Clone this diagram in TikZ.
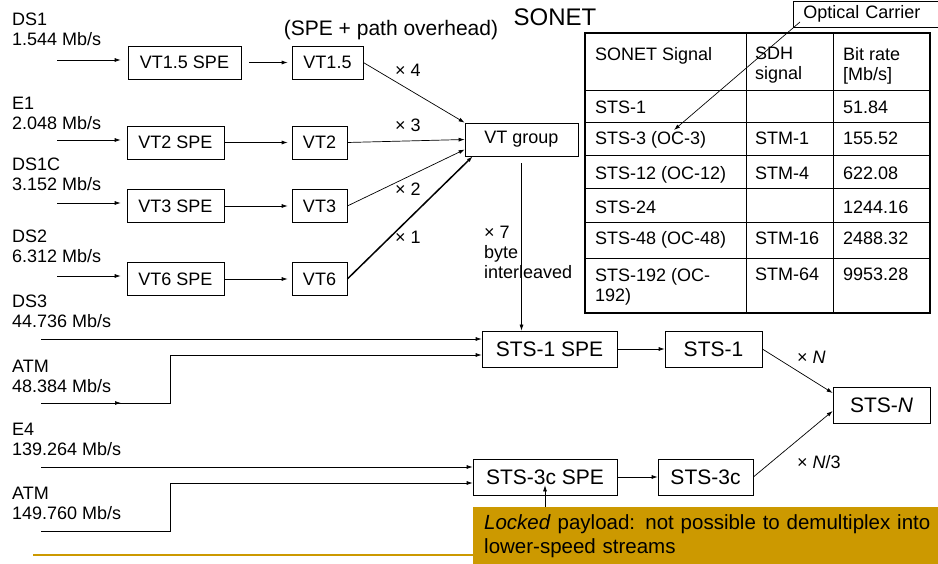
\documentclass[tikz,border=0pt]{standalone}
\usepackage{fontspec}
\setmainfont{Liberation Sans}
\usetikzlibrary{arrows.meta,positioning}
\definecolor{Or}{RGB}{204,153,0}
\tikzset{
Boite/.style={
 draw=black, 
 line width=0.7pt, 
 inner sep=0pt, 
 minimum height=33pt, 
 font=\fontsize{18}{21}\selectfont
 },
GBoite/.style={
 Boite, 
 minimum height=36pt, 
 font=\fontsize{21}{24}\selectfont
 },
Fleche/.style={
 draw=black, 
 line width=0.7pt, 
 -{Latex[length=6pt,width=4pt]}
 },
Texte/.style={
 inner sep=0pt, 
 align=left, 
 font=\fontsize{18}{20}\selectfont
 },
Entree/.style={
 Texte, 
 anchor=north west
 },
Cellule/.style={
 Texte, 
 anchor=base west
 },
Filet/.style={
 line width=0.8pt
 }
}
\begin{document}
\begin{tikzpicture}[x=1pt,y=-1pt]
\useasboundingbox (0,0) rectangle (938,564);
% titres
\node[Texte, font=\fontsize{24}{28}\selectfont] (titre) at (555,17) {SONET};
\node[Texte, font=\fontsize{21}{24}\selectfont] (overhead) at (391,30) {(SPE + path overhead)};
% entrees basse vitesse
\node[Entree] (lds1) at (12,13) {DS1\\1.544 Mb/s};
\node[Entree] (le1) at (12,97) {E1\\2.048 Mb/s};
\node[Entree] (lds1c) at (12,158) {DS1C\\3.152 Mb/s};
\node[Entree] (lds2) at (12,230) {DS2\\6.312 Mb/s};
\coordinate (ds1) at (57,60);
\coordinate (e1) at (57,140);
\coordinate (ds1c) at (57,203);
\coordinate (ds2) at (57,276);
% boites VT
\node[Boite, minimum width=113pt] (vtaspe) at (184.5,62.5) {VT1.5 SPE};
\node[Boite, minimum width=71pt] (vta) at (327.5,62.5) {VT1.5};
\node[Boite, minimum width=97pt] (vtbspe) at (175.5,142.5) {VT2 SPE};
\node[Boite, minimum width=55pt] (vtb) at (319.5,142.5) {VT2};
\node[Boite, minimum width=97pt] (vtcspe) at (175.5,206) {VT3 SPE};
\node[Boite, minimum width=55pt] (vtc) at (319.5,206) {VT3};
\node[Boite, minimum width=97pt] (vtdspe) at (175.5,279) {VT6 SPE};
\node[Boite, minimum width=55pt] (vtd) at (319.5,279) {VT6};
\node[Boite, minimum width=113pt] (vtg) at (521.5,139.5) {VT group};
\draw[Fleche, shorten >=7pt] (ds1) -- (ds1 -| vtaspe.west);
\draw[Fleche, shorten >=6pt] (e1) -- (e1 -| vtbspe.west);
\draw[Fleche, shorten >=6pt] (ds1c) -- (ds1c -| vtcspe.west);
\draw[Fleche, shorten >=6pt] (ds2) -- (ds2 -| vtdspe.west);
\draw[Fleche, shorten <=8pt, shorten >=4pt] (vtaspe.east) -- (vta.west);
\draw[Fleche, shorten >=4pt] (vtbspe.east) -- (vtb.west);
\draw[Fleche, shorten >=4pt] (vtcspe.east) -- (vtc.west);
\draw[Fleche, shorten >=4pt] (vtdspe.east) -- (vtd.west);
% groupe VT
\draw[Fleche] (vta.east) -- (vtg.north west);
\draw[Fleche] (vtb.east) -- (vtg.west);
\draw[Fleche] (vtc.east) -- ([yshift=-10pt]vtg.west);
\draw[Fleche, line width=1.5pt] (vtd.east) -- ([xshift=8pt]vtg.south west);
\node[Texte] (xa) at (408,70) {× 4};
\node[Texte] (xb) at (408,125) {× 3};
\node[Texte] (xc) at (408,189) {× 2};
\node[Texte] (xd) at (408,237) {× 1};
\node[Texte, anchor=west] (octets) at (484,252) {× 7\\byte\\interleaved};
% boites STS
\node[GBoite, minimum width=135pt] (sts1spe) at (549.5,349) {STS-1 SPE};
\node[GBoite, minimum width=97pt] (sts1) at (713.5,349) {STS-1};
\node[GBoite, minimum width=97pt] (stsn) at (881.5,405) {STS-\textit{N}};
\node[GBoite, minimum width=144pt] (sts3cspe) at (545,477) {STS-3c SPE};
\node[GBoite, minimum width=95pt] (sts3c) at (705.5,477) {STS-3c};
\draw[Fleche, shorten <=7pt] (vtg.south) -- (vtg.south |- sts1spe.north);
% entrees haute vitesse
\node[Entree] (lds3) at (12,295) {DS3\\44.736 Mb/s};
\node[Entree] (latma) at (12,360) {ATM\\48.384 Mb/s};
\node[Entree] (le4) at (12,423) {E4\\139.264 Mb/s};
\node[Entree] (latmb) at (12,487) {ATM\\149.760 Mb/s};
\coordinate (ds3) at (41,339);
\coordinate (atma) at (41,403);
\coordinate (e4) at (41,467);
\coordinate (atmb) at (41,531);
\draw[Fleche] (ds3) -- (ds3 -| sts1spe.west);
\draw[Fleche] (atma) -- ++(129,0) |- ([yshift=-6pt]sts1spe.west);
\draw[Fleche] ([xshift=16pt]atma) -- ++(64,0);
\draw[Fleche] (e4) -- (e4 -| sts3cspe.west);
\draw[Fleche] (atmb) -- ++(129,0) |- ([yshift=-6pt]sts3cspe.west);
% vers STS-N
\draw[Fleche] (sts1spe) -- (sts1);
\draw[Fleche] (sts3cspe) -- (sts3c);
\draw[Fleche] (sts1.east) -- ([yshift=12pt]stsn.west);
\draw[Fleche] (sts3c.east) -- ([yshift=-6pt]stsn.west);
\node[Texte, anchor=west] (xn) at (797,357) {× \textit{N}};
\node[Texte, anchor=west] (xn3) at (797,462) {× \textit{N}/3};
% remarque
\node[fill=Or, anchor=north west, minimum height=57pt, inner xsep=11pt, inner ysep=0pt, text width=480pt, align=left, font=\fontsize{20.5}{24}\selectfont] (note) at (473,507) {\textit{Locked} payload: not possible to demultiplex into\\lower-speed streams};
\draw[Fleche] (note.north -| sts3cspe) -- ([yshift=10pt]sts3cspe.south);
\coordinate (trait) at (33,555);
\draw[Or, line width=1.5pt] (trait) -- (trait -| note.west);
% tableau
\draw[line width=2pt] (585,33) rectangle (930,313);
\foreach \y in {90,122,155,188,222,258}
 \draw[Filet] (585,\y) -- (930,\y);
\foreach \x in {746,833}
 \draw[Filet] (\x,33) -- (\x,313);
\node[Entree] (hsig) at (595,47) {SONET Signal};
\node[Entree] (hsdh) at (755,47) {SDH\\signal};
\node[Entree] (hdeb) at (843,47) {Bit rate\\{[Mb/s]}};
\foreach \y/\a/\b/\c [count=\i] in {113.4/STS-1/{}/51.84, 144.4/{STS-3 (OC-3)}/STM-1/155.52, 179.4/{STS-12 (OC-12)}/STM-4/622.08, 213.4/STS-24/{}/1244.16, 244.4/{STS-48 (OC-48)}/STM-16/2488.32}{
 \node[Cellule] (sig\i) at (595,\y) {\a};
 \node[Cellule] (sdh\i) at (755,\y) {\b};
 \node[Cellule] (deb\i) at (843,\y) {\c};
}
\node[Entree] (sig6) at (595,268) {STS-192 (OC-\\192)};
\node[Entree] (sdh6) at (755,268) {STM-64};
\node[Entree] (deb6) at (843,268) {9953.28};
% porteuse optique
\node[draw, line width=0.7pt, anchor=south west, inner xsep=10pt, inner ysep=5pt, text width=135pt, font=\fontsize{18}{20}\selectfont] (oc) at (793,28) {Optical Carrier};
\coordinate (cible) at (674,130);
\draw[Fleche] ([xshift=7pt,yshift=6pt]oc.south west) -- (cible);
\end{tikzpicture}
\end{document}
